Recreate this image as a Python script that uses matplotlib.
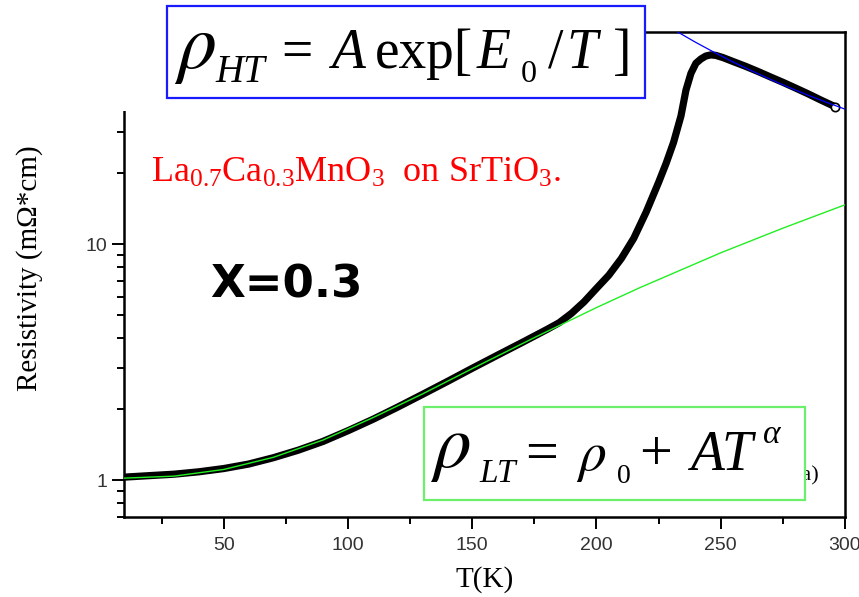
import matplotlib
matplotlib.use('Agg')
import matplotlib.pyplot as plt
from matplotlib import ticker
from matplotlib.patches import Rectangle

plt.rcParams['mathtext.fontset'] = 'custom'
plt.rcParams['mathtext.rm'] = 'Liberation Serif'
plt.rcParams['mathtext.it'] = 'Liberation Serif:italic'

# measured resistivity of the film, T in K, rho in mOhm*cm
temp = [10, 20, 30, 40, 50, 60, 70, 80, 90, 100, 110, 120, 130, 140, 150,
        160, 170, 180, 185, 190, 195, 200, 205, 210, 215, 220, 225, 228,
        231, 234, 236, 238, 240, 242, 244, 246, 248, 251, 255, 260, 265,
        270, 275, 280, 285, 290, 296]
rho = [1.03, 1.045, 1.06, 1.085, 1.12, 1.17, 1.245, 1.34, 1.46, 1.62, 1.81,
       2.04, 2.31, 2.62, 2.98, 3.38, 3.83, 4.35, 4.65, 5.1, 5.7, 6.5, 7.4,
       8.7, 10.6, 13.7, 18.3, 22.0, 27.0, 35.0, 45.0, 53.0, 58.5, 61.0,
       62.8, 63.5, 63.2, 61.8, 59.5, 56.8, 54.0, 51.2, 48.6, 46.0, 43.5,
       41.0, 38.3]

# low temperature fit  rho0 + A*T^alpha
fit_lt_t = [10, 30, 50, 70, 90, 110, 130, 150, 175, 200, 217.5, 250, 275, 300]
fit_lt_rho = [1.02, 1.04, 1.11, 1.25, 1.48, 1.84, 2.32, 2.97, 4.02, 5.39,
              6.55, 9.2, 11.7, 14.7]

# high temperature fit  A*exp(E0/T)
fit_ht_t = [225, 232.5, 240, 247.5, 255, 262.5, 270, 277.5, 285, 292.5, 300]
fit_ht_rho = [89.1, 79.6, 71.7, 65.0, 59.2, 54.3, 50.0, 46.2, 42.9, 40.0, 37.4]

W, H = 859, 597
fig = plt.figure(figsize=(W / 100, H / 100), dpi=100)


def fx(x):
    return x / W


def fy(y):
    return 1 - y / H


ax = fig.add_axes([fx(124.3), fy(516.7), (845 - 124.3) / W, (516.7 - 32) / H])
ax.set_yscale('log')
ax.set_xlim(10, 300)
ax.set_ylim(0.70, 79.4)

ax.plot(temp, rho, color='black', lw=5.2, solid_capstyle='round',
        solid_joinstyle='round', zorder=2)
ax.plot(temp[-1:], rho[-1:], 'o', mfc='white', mec='black', ms=6, mew=1.2,
        zorder=3)
ax.plot(fit_lt_t, fit_lt_rho, color='#22ee22', lw=1, zorder=4)
ax.plot(fit_ht_t, fit_ht_rho, color='#0000ff', lw=0.9, zorder=4)

ax.xaxis.set_major_locator(ticker.MultipleLocator(50))
ax.xaxis.set_minor_locator(ticker.MultipleLocator(25))
ax.yaxis.set_major_locator(ticker.FixedLocator([1, 10]))
ax.yaxis.set_minor_locator(ticker.LogLocator(base=10, subs=range(2, 10), numticks=20))
ax.yaxis.set_major_formatter(ticker.FuncFormatter(lambda v, p: f'{v:g}'))
ax.yaxis.set_minor_formatter(ticker.NullFormatter())
ax.tick_params(which='both', direction='out', width=1.4, color='black',
               labelcolor='#333333', labelsize=14,
               labelfontfamily='Liberation Sans')
ax.tick_params(which='major', length=8.4)
ax.tick_params(which='minor', length=4.8)
ax.tick_params(axis='x', pad=6)
ax.tick_params(axis='y', pad=3.6)
for s in ax.spines.values():
    s.set_linewidth(1.8)

fig.text(fx(30), fy(268), 'Resistivity (m\u03a9*cm)', rotation=90,
         ha='center', va='center', fontsize=21, family='Liberation Serif')
fig.text(fx(485), fy(580), 'T(K)', ha='center', va='center', fontsize=21,
         family='Liberation Serif')

# white patch over the upper left corner of the frame
fig.patches.append(Rectangle((fx(100), fy(111)), fx(645) - fx(100), 111 / H,
                             transform=fig.transFigure, facecolor='white',
                             edgecolor='none', zorder=2))

fig.text(fx(151), fy(181.7), r'La$_{0.7}$Ca$_{0.3}$MnO$_{3}$  on SrTiO$_{3}$.',
         color='#ff0000', fontsize=26, family='Liberation Serif',
         va='baseline', zorder=5)
fig.text(fx(210), fy(297), 'X=0.3', fontsize=32.5, weight='bold',
         family='DejaVu Sans', va='baseline', zorder=5)

fig.text(fx(819), fy(480), '(a)', fontsize=16, family='Liberation Serif',
         ha='right', va='baseline', zorder=2.5)

fig.patches.append(Rectangle((fx(167), fy(98)), fx(645) - fx(167), 92 / H,
                             transform=fig.transFigure, facecolor='white',
                             edgecolor='#1a1aff', lw=1.6, zorder=3))
fig.patches.append(Rectangle((fx(424), fy(500)), fx(805) - fx(424), 93 / H,
                             transform=fig.transFigure, facecolor='white',
                             edgecolor='#6cf06c', lw=1.6, zorder=3))


def put(x, y, s, size, italic=False):
    fig.text(fx(x), fy(y), s, fontsize=size, family='Liberation Serif',
             style='italic' if italic else 'normal', va='baseline',
             ha='left', zorder=5)


def put_rho(x, y, size):
    fig.text(fx(x), fy(y), r'$\rho$', fontsize=size, math_fontfamily='stix',
             va='baseline', ha='left', zorder=5)


# rho_HT = A exp[E0 / T]
put_rho(174, 68, 56)
put(215, 82, 'HT', 28, True)
put(281, 68, '=', 40)
put(331, 68, 'A', 40, True)
put(375, 68, 'exp[', 40)
put(477, 68, 'E', 40, True)
put(521, 82, '0', 23)
put(548, 68, '/', 40)
put(566, 68, 'T', 40, True)
put(613, 68, ']', 40)

# rho_LT = rho0 + A T^alpha
put_rho(430, 467, 54)
put(479, 482, 'LT', 24, True)
put(525, 470, '=', 42)
put_rho(576, 470, 40)
put(617, 483, '0', 20)
put(639, 470, '+', 42)
put(690, 470, 'AT', 40, True)
put(763, 443, '\u03b1', 24, True)

fig.savefig('out.png', dpi=100)
